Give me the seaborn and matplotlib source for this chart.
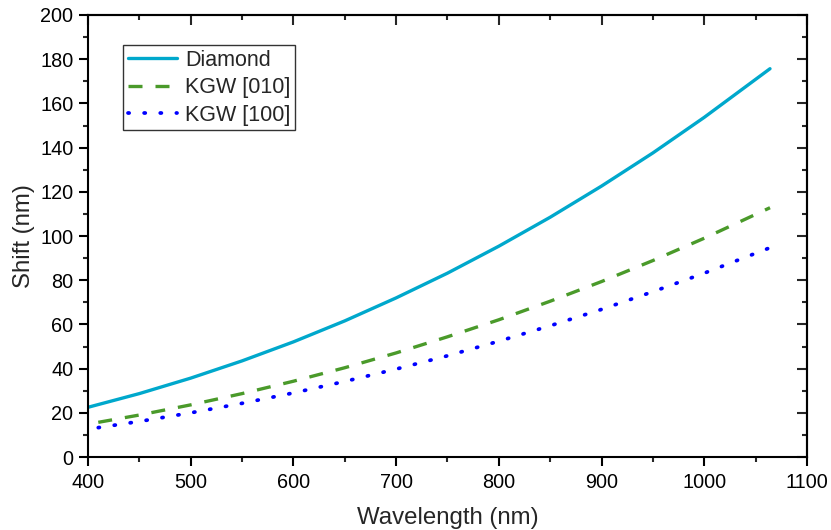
import matplotlib
matplotlib.use("Agg")
import matplotlib.pyplot as plt
import seaborn as sns
import pandas as pd
from matplotlib.ticker import MultipleLocator

# Data
wl_diamond = [400, 450, 500, 550, 600, 650, 700, 750, 800, 850, 900, 950, 1000, 1064]
shift_diamond = [22.5, 28.7, 35.7, 43.5, 52.1, 61.6, 72.0, 83.2, 95.4, 108.5, 122.6, 137.6, 153.7, 175.7]
wl_kgw = [410, 450, 500, 550, 600, 650, 700, 750, 800, 850, 900, 950, 1000, 1064]
shift_kgw010 = [15.7, 19.0, 23.6, 28.7, 34.3, 40.4, 47.1, 54.4, 62.1, 70.5, 79.4, 88.9, 99.0, 112.8]
shift_kgw100 = [13.3, 16.1, 20.0, 24.3, 29.0, 34.2, 39.8, 45.8, 52.4, 59.4, 66.8, 74.8, 83.2, 94.7]
labels = ["Diamond", "KGW [010]", "KGW [100]"]
colors = ["#00A8CC", "#4A9A2A", "#0000FF"]

sns.set_style("ticks")
plt.rcParams["font.family"] = ["Liberation Sans", "DejaVu Sans"]

fig = plt.figure(figsize=(8.31, 5.30), dpi=100)
ax = fig.add_axes([0.1059, 0.1377, 0.8652, 0.834])

df_d = pd.DataFrame({"wl": wl_diamond, "shift": shift_diamond})
df_k1 = pd.DataFrame({"wl": wl_kgw, "shift": shift_kgw010})
df_k2 = pd.DataFrame({"wl": wl_kgw, "shift": shift_kgw100})

lw = 2.4
sns.lineplot(data=df_d, x="wl", y="shift", ax=ax, color=colors[0], lw=lw, label=labels[0])
sns.lineplot(data=df_k1, x="wl", y="shift", ax=ax, color=colors[1], lw=lw,
             linestyle=(0, (4.2, 3.9)), label=labels[1])
sns.lineplot(data=df_k2, x="wl", y="shift", ax=ax, color=colors[2], lw=lw + 0.3,
             linestyle=(0, (0.3, 4.0)), dash_capstyle="round", label=labels[2])

ax.set_xlim(400, 1100)
ax.set_ylim(0, 200)
ax.xaxis.set_major_locator(MultipleLocator(100))
ax.xaxis.set_minor_locator(MultipleLocator(50))
ax.yaxis.set_major_locator(MultipleLocator(20))
ax.yaxis.set_minor_locator(MultipleLocator(10))

for sp in ax.spines.values():
    sp.set_linewidth(1.5)
    sp.set_color("black")
    sp.set_visible(True)

ax.tick_params(which="major", direction="out", length=6.5, width=1.5, labelsize=14.3,
               colors="black")
ax.tick_params(axis="x", which="major", pad=5)
ax.tick_params(axis="y", which="major", pad=4)
ax.tick_params(which="minor", direction="out", length=3.6, width=1.5)

# inward ticks on top and right
sx = ax.secondary_xaxis("top")
sx.xaxis.set_major_locator(MultipleLocator(100))
sx.xaxis.set_minor_locator(MultipleLocator(50))
sx.tick_params(which="major", direction="in", length=7, width=1.5, labeltop=False)
sx.tick_params(which="minor", direction="in", length=3.6, width=1.5)
sx.spines["top"].set_linewidth(1.5)
sy = ax.secondary_yaxis("right")
sy.yaxis.set_major_locator(MultipleLocator(20))
sy.yaxis.set_minor_locator(MultipleLocator(10))
sy.tick_params(which="major", direction="in", length=7, width=1.5, labelright=False)
sy.tick_params(which="minor", direction="in", length=3.6, width=1.5)
sy.spines["right"].set_linewidth(1.5)

ax.set_xlabel("Wavelength (nm)", fontsize=17.3, labelpad=11)
ax.set_ylabel("Shift (nm)", fontsize=17.3, labelpad=4)

leg = ax.legend(loc="upper left", bbox_to_anchor=(0.0487, 0.932), borderaxespad=0,
                fontsize=15.5, frameon=True, fancybox=False, handlelength=2.3,
                handletextpad=0.35, labelspacing=0.3, borderpad=0.22)
leg.get_frame().set_edgecolor("black")
leg.get_frame().set_linewidth(1.0)

fig.savefig("out.png", dpi=100)
